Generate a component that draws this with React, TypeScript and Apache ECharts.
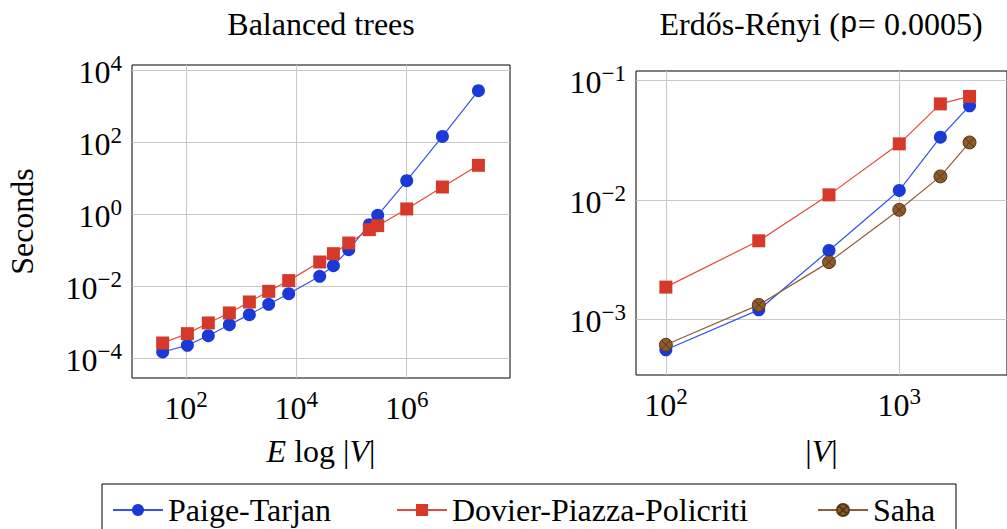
import React, { useEffect, useRef } from 'react';
import * as echarts from 'echarts';

// ---- Data ----
const balancedX = [37.8, 106, 254, 611, 1407, 3155, 7270, 26500, 46900, 88900, 210000, 298000, 1000000, 4430000, 19900000];
const balancedPT = [1.47e-4, 2.25e-4, 4.17e-4, 8.43e-4, 1.6e-3, 3.1e-3, 6.1e-3, 0.0186, 0.0367, 0.102, 0.506, 0.918, 8.43, 143, 2670];
const balancedDPP = [2.61e-4, 4.74e-4, 9.4e-4, 1.78e-3, 3.6e-3, 7.1e-3, 0.0141, 0.0464, 0.079, 0.156, 0.367, 0.474, 1.38, 5.62, 22.5];

const erX = [100, 250, 500, 1000, 1500, 2000];
const erPT = [5.56e-4, 1.2e-3, 3.77e-3, 0.01197, 0.0334, 0.0612];
const erDPP = [1.86e-3, 4.54e-3, 0.011, 0.0294, 0.0635, 0.0733];
const erSaha = [6.12e-4, 1.32e-3, 3.01e-3, 8.25e-3, 0.0157, 0.0302];

const balancedXTicks = [1e2, 1e4, 1e6];
const balancedYTicks = [1e-4, 1e-2, 1, 1e2, 1e4];
const erXTicks = [1e2, 1e3];
const erYTicks = [1e-3, 1e-2, 1e-1];

const seriesNames = ['Paige-Tarjan', 'Dovier-Piazza-Policriti', 'Saha'];
const titles = ['Balanced trees', 'Erdős-Rényi ({tt|p}= 0.0005)'];

// ---- Styles ----
const SERIF = "'Liberation Serif', 'Times New Roman', serif";
const MONO = "'Liberation Mono', 'DejaVu Sans Mono', monospace";
const BLUE = '#1a3ad8';
const BLUE_LINE = '#3552f0';
const RED = '#d5392a';
const RED_LINE = '#e6483c';
const BROWN = '#8d5a2c';
const BROWN_LINE = '#8d6038';
const OTIMES = 'path://M0,10 A10,10 0 1,1 20,10 A10,10 0 1,1 0,10 Z M2.93,2.93 L17.07,17.07 M17.07,2.93 L2.93,17.07';

const zip = (xs: number[], ys: number[]) => xs.map((x, i) => [x, ys[i]]);

function powLabel(v: number) {
  const e = Math.round(Math.log10(v));
  const s = e < 0 ? '\u2212' + Math.abs(e) : String(e);
  return `{b|10}{s|${s}}`;
}

const richPow = {
  b: { fontSize: 32, fontFamily: SERIF, color: '#000', lineHeight: 36, verticalAlign: 'bottom' },
  s: { fontSize: 23, fontFamily: SERIF, color: '#000', lineHeight: 17, verticalAlign: 'top' },
};

function logAxis(gridIndex: number, min: number, max: number, ticks: number[], extra: any) {
  return {
    type: 'log',
    logBase: 10,
    gridIndex,
    min,
    max,
    axisLine: { show: false },
    axisTick: { show: false, customValues: ticks },
    minorTick: { show: false },
    axisLabel: { customValues: ticks, formatter: powLabel, rich: richPow, margin: 10, color: '#000', showMinLabel: true, showMaxLabel: true },
    splitLine: { show: true, lineStyle: { color: '#c8c8c8', width: 1 } },
    ...extra,
  };
}

const nameStyle = {
  fontFamily: SERIF,
  fontSize: 32,
  color: '#000',
  lineHeight: 36,
  rich: { i: { fontFamily: SERIF, fontSize: 32, fontStyle: 'italic', color: '#000', lineHeight: 36 } },
};

const legTok = (width: number) => ({ fontFamily: SERIF, fontSize: 32, color: '#000', lineHeight: 36, width, align: 'left' });

function lineSeries(name: string, xi: number, data: number[][], symbol: string, color: string, lineColor: string, extraItem: any = {}) {
  return {
    name,
    type: 'line',
    xAxisIndex: xi,
    yAxisIndex: xi,
    data,
    symbol,
    symbolSize: 13,
    showAllSymbol: true,
    itemStyle: { color, ...extraItem },
    lineStyle: { color: lineColor, width: 1.2 },
    emphasis: { disabled: true },
  };
}

export default function App() {
  const ref = useRef<HTMLDivElement>(null);
  useEffect(() => {
    if (!ref.current) return;
    const chart = echarts.init(ref.current, null, { renderer: 'svg' });
    const titleStyle = {
      fontFamily: SERIF,
      fontSize: 32,
      fontWeight: 'normal',
      color: '#000',
      lineHeight: 36,
      rich: { tt: { fontFamily: MONO, fontSize: 30, color: '#000', lineHeight: 36 } },
    };
    chart.setOption({
      animation: false,
      backgroundColor: '#fff',
      textStyle: { fontFamily: SERIF },
      title: [
        { text: titles[0], left: 321, top: 6, textAlign: 'center', padding: 0, textStyle: titleStyle },
        { text: titles[1], left: 821, top: 6, textAlign: 'center', padding: 0, textStyle: titleStyle },
      ],
      legend: {
        left: 102,
        top: 484,
        orient: 'horizontal',
        padding: [8, 16, 14, 10],
        itemGap: 45,
        itemWidth: 50,
        itemHeight: 15,
        borderColor: '#000',
        borderWidth: 1,
        data: seriesNames,
        formatter: (name: string) => `{t${seriesNames.indexOf(name)}|${name}}`,
        textStyle: {
          fontFamily: SERIF,
          fontSize: 32,
          color: '#000',
          lineHeight: 36,
          rich: { t0: legTok(183), t1: legTok(320), t2: legTok(67) },
        },
      },
      grid: [
        { left: 132, top: 65, width: 378, height: 313, show: true, borderColor: '#000', borderWidth: 1, backgroundColor: 'transparent' },
        { left: 636, top: 71, width: 380, height: 304, show: true, borderColor: '#000', borderWidth: 1, backgroundColor: 'transparent' },
      ],
      xAxis: [
        logAxis(0, Math.pow(10, 1.022), Math.pow(10, 7.871), balancedXTicks, {
          name: '{i|E} log |{i|V}|', nameLocation: 'middle', nameGap: 55, nameTextStyle: nameStyle,
        }),
        logAxis(1, Math.pow(10, 1.872), Math.pow(10, 3.4615), erXTicks, {
          name: '|{i|V}|', nameLocation: 'middle', nameGap: 58, nameTextStyle: nameStyle,
        }),
      ],
      yAxis: [
        logAxis(0, Math.pow(10, -4.556), Math.pow(10, 4.139), balancedYTicks, {
          name: 'Seconds', nameLocation: 'middle', nameGap: 92, nameTextStyle: nameStyle,
        }),
        logAxis(1, Math.pow(10, -3.466), Math.pow(10, -0.922), erYTicks, {}),
      ],
      series: [
        lineSeries(seriesNames[0], 0, zip(balancedX, balancedPT), 'circle', BLUE, BLUE_LINE),
        lineSeries(seriesNames[1], 0, zip(balancedX, balancedDPP), 'rect', RED, RED_LINE),
        lineSeries(seriesNames[0], 1, zip(erX, erPT), 'circle', BLUE, BLUE_LINE),
        lineSeries(seriesNames[1], 1, zip(erX, erDPP), 'rect', RED, RED_LINE),
        lineSeries(seriesNames[2], 1, zip(erX, erSaha), OTIMES, BROWN, BROWN_LINE, { borderColor: '#5a3815', borderWidth: 1 }),
      ],
    });
    return () => chart.dispose();
  }, []);
  return <div ref={ref} style={{ position: 'fixed', left: 0, top: 0, width: 1007, height: 529 }} />;
}
